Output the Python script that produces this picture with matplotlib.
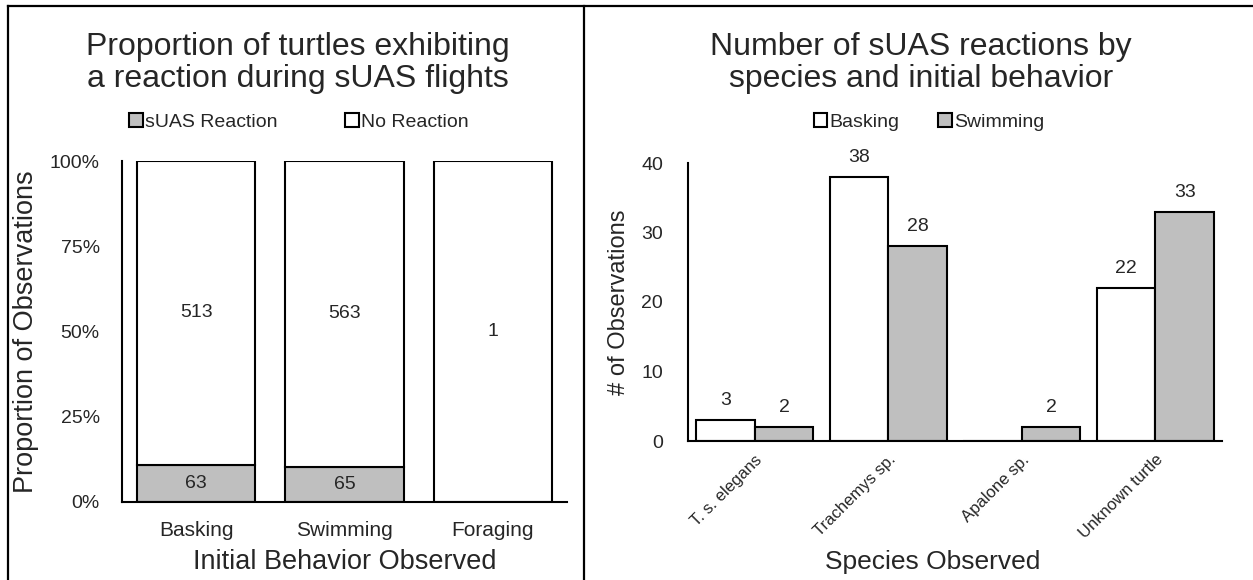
import matplotlib
matplotlib.use("Agg")
import matplotlib.pyplot as plt
import numpy as np
from matplotlib.patches import Patch
from matplotlib.lines import Line2D

plt.rcParams['font.family'] = ['Liberation Sans', 'DejaVu Sans']

# Panel 1: counts of turtles by initial behaviour
behaviors = ["Basking", "Swimming", "Foraging"]
reaction_counts = [63, 65, 0]
no_reaction_counts = [513, 563, 1]

# Panel 2: reactions by species and initial behaviour
species = ["T. s. elegans", "Trachemys sp.", "Apalone sp.", "Unknown turtle"]
basking_counts = [3, 38, 0, 22]
swimming_counts = [2, 28, 2, 33]

GRAY = "#BFBFBF"
TXT = "#262626"
W, H = 1253, 580
fig = plt.figure(figsize=(W / 100, H / 100), dpi=100)


def px_axes(x0, y_top, x1, y_bot):
    return fig.add_axes([x0 / W, 1 - y_bot / H, (x1 - x0) / W, (y_bot - y_top) / H])


def style_axes(ax):
    for s in ("top", "right"):
        ax.spines[s].set_visible(False)
    for s in ("left", "bottom"):
        ax.spines[s].set_linewidth(1.5)
        ax.spines[s].set_color("black")
    ax.tick_params(length=0, colors=TXT)


# ---- left panel: stacked proportions ----
ax1 = px_axes(122, 161, 567, 502)
style_axes(ax1)
react = np.array(reaction_counts, dtype=float)
noreact = np.array(no_reaction_counts, dtype=float)
total = react + noreact
p_react = react / total
p_no = noreact / total
x1 = np.arange(len(behaviors))
ax1.bar(x1, p_react, width=0.8, color=GRAY, edgecolor="black", linewidth=1.5)
ax1.bar(x1, p_no, bottom=p_react, width=0.8, color="white", edgecolor="black", linewidth=1.5)
for i in range(len(behaviors)):
    if react[i] > 0:
        ax1.text(x1[i], p_react[i] / 2, f"{reaction_counts[i]}", ha="center", va="center",
                 fontsize=14, color=TXT)
    if noreact[i] > 0:
        ax1.text(x1[i], p_react[i] + p_no[i] / 2, f"{no_reaction_counts[i]}", ha="center",
                 va="center", fontsize=14, color=TXT)
ax1.set_xlim(-0.5, len(behaviors) - 0.5)
ax1.set_ylim(0, 1)
ax1.set_yticks([0, 0.25, 0.5, 0.75, 1.0])
ax1.set_yticklabels(["0%", "25%", "50%", "75%", "100%"], fontsize=14)
ax1.set_xticks(x1)
ax1.set_xticklabels(behaviors, fontsize=15)
ax1.tick_params(axis="y", pad=16)
ax1.tick_params(axis="x", pad=14)
ax1.set_xlabel("Initial Behavior Observed", fontsize=19.5, labelpad=6, color=TXT)
ax1.set_ylabel("Proportion of Observations", fontsize=19.5, labelpad=8, color=TXT)

fig.text(298 / W, 1 - 63 / H, "Proportion of turtles exhibiting\na reaction during sUAS flights",
         ha="center", va="center", fontsize=23, linespacing=1.12, color=TXT)
leg1 = fig.legend(
    handles=[Patch(facecolor=GRAY, edgecolor="black", linewidth=1.5, label="sUAS Reaction"),
             Patch(facecolor="white", edgecolor="black", linewidth=1.5, label="No Reaction")],
    loc="center", bbox_to_anchor=(299 / W, 1 - 122 / H), ncol=2, frameon=False,
    fontsize=14, handlelength=0.7, handleheight=0.7, handletextpad=0.1, columnspacing=3.5,
    labelcolor=TXT)

# ---- right panel: grouped counts ----
ax2 = px_axes(688, 163, 1222, 441)
style_axes(ax2)
x2 = np.arange(len(species))
bw = 0.44
b1 = ax2.bar(x2 - bw / 2, basking_counts, width=bw, color="white", edgecolor="black", linewidth=1.5)
b2 = ax2.bar(x2 + bw / 2, swimming_counts, width=bw, color=GRAY, edgecolor="black", linewidth=1.5)
for bars, vals in ((b1, basking_counts), (b2, swimming_counts)):
    for rect, v in zip(bars, vals):
        if v > 0:
            ax2.annotate(f"{v}", (rect.get_x() + rect.get_width() / 2, v), xytext=(0, 8),
                         textcoords="offset points", ha="center", va="bottom",
                         fontsize=14, color=TXT)
ax2.set_xlim(-0.5, len(species) - 0.5)
ax2.set_ylim(0, 40)
ax2.set_yticks([0, 10, 20, 30, 40])
ax2.tick_params(axis="y", labelsize=14, pad=18)
ax2.set_xticks(x2)
ax2.set_xticklabels(species, rotation=45, ha="right", rotation_mode="anchor", fontsize=12)
ax2.tick_params(axis="x", pad=8)
ax2.set_ylabel("# of Observations", fontsize=17, labelpad=8, color=TXT)
fig.text(933 / W, 1 - 562 / H, "Species Observed", ha="center", va="center", fontsize=19,
         color=TXT)

fig.text(921 / W, 1 - 63 / H, "Number of sUAS reactions by\nspecies and initial behavior",
         ha="center", va="center", fontsize=23, linespacing=1.12, color=TXT)
leg2 = fig.legend(
    handles=[Patch(facecolor="white", edgecolor="black", linewidth=1.5, label="Basking"),
             Patch(facecolor=GRAY, edgecolor="black", linewidth=1.5, label="Swimming")],
    loc="center", bbox_to_anchor=(929 / W, 1 - 122 / H), ncol=2, frameon=False,
    fontsize=14, handlelength=0.7, handleheight=0.7, handletextpad=0.1, columnspacing=2.0,
    labelcolor=TXT)

# ---- frame lines around and between the panels ----
for xs, ys in (((8, W), (6, 6)), ((8, 8), (6, H)), ((584, 584), (6, H))):
    fig.add_artist(Line2D([x / W for x in xs], [1 - y / H for y in ys], color="black",
                          linewidth=1.6, transform=fig.transFigure))

fig.savefig("out.png", dpi=100, facecolor="white")
